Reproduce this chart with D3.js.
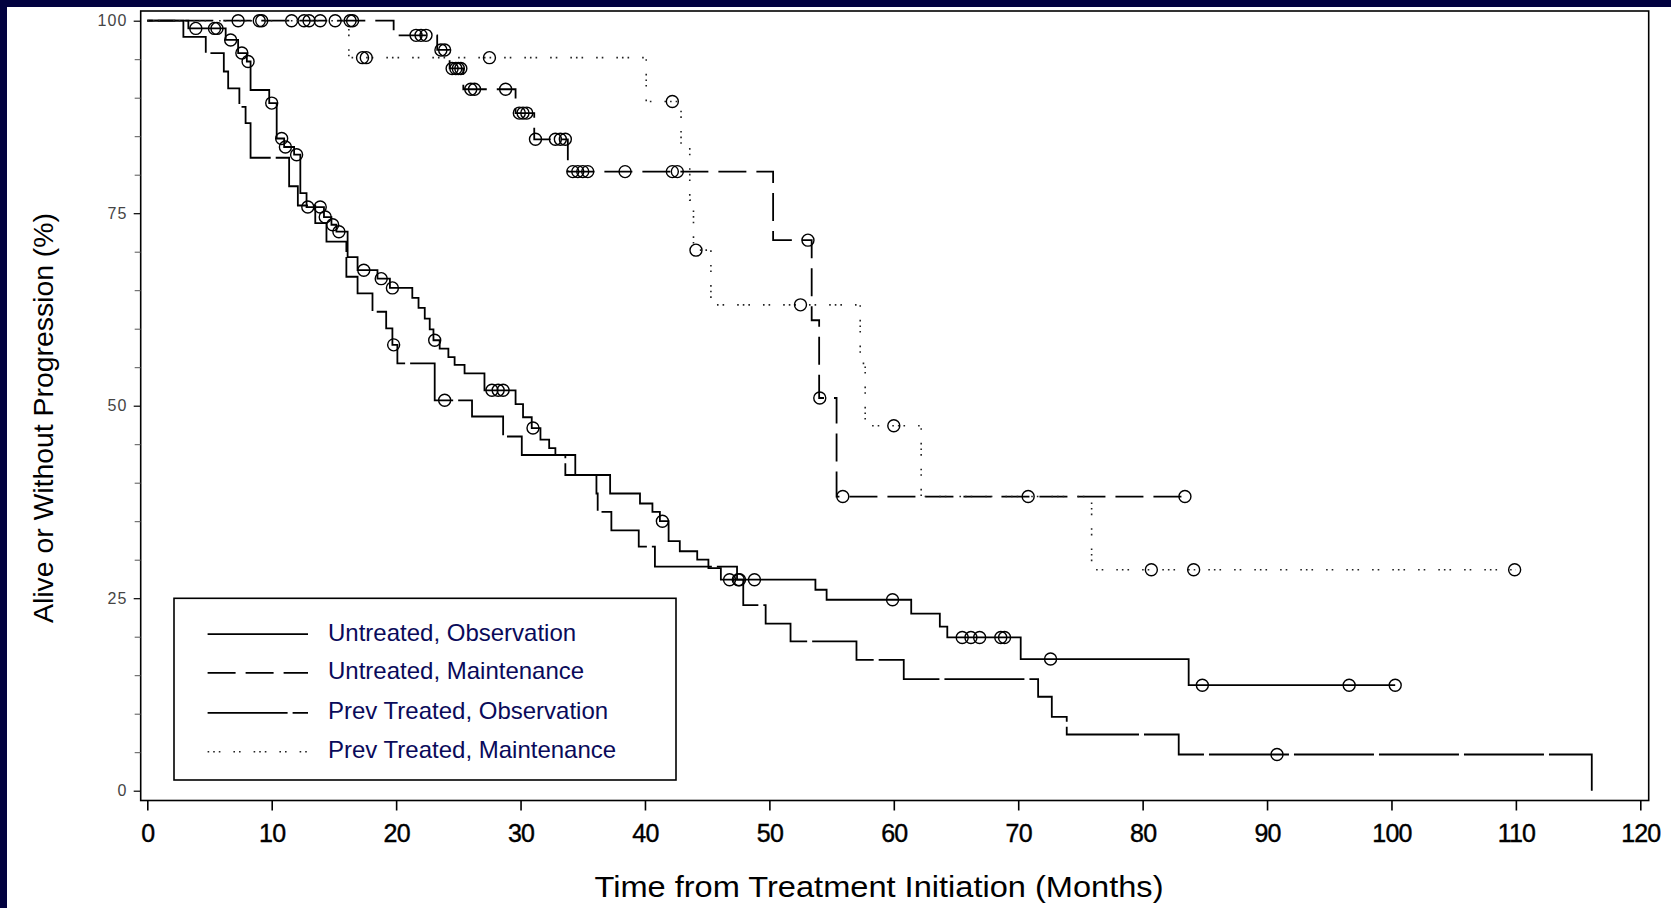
<!DOCTYPE html>
<html><head><meta charset="utf-8">
<script src="https://cdn.jsdelivr.net/npm/d3@7/dist/d3.min.js"></script>
<style>
html,body{margin:0;padding:0;background:#020240;overflow:hidden}
svg{display:block}
text{font-family:"Liberation Sans",Arial,Helvetica,sans-serif}
</style></head>
<body>
<svg id="chart" width="1671" height="908"></svg>
<script>
// ---------------- DATA ----------------
const xTicks = [0,10,20,30,40,50,60,70,80,90,100,110,120];
const yTicks = [0,25,50,75,100];
const yMinorTicks = [5,10,15,20,30,35,40,45,55,60,65,70,80,85,90,95];
const xTitle = "Time from Treatment Initiation (Months)";
const yTitle = "Alive or Without Progression (%)";
const seriesNames = ["Untreated, Observation","Untreated, Maintenance","Prev Treated, Observation","Prev Treated, Maintenance"];

// Kaplan-Meier steps: [month at which the drop happens, new % value]
const untreatedObsSteps = [[0,100],[3.3,99.0],[6.3,97.5],[7.3,95.8],[8.0,94.7],[8.3,91.0],[9.8,89.3],[10.4,84.7],[11.0,83.6],[11.8,82.6],[12.3,77.6],[12.8,75.8],[14.2,74.5],[14.8,73.5],[15.2,72.6],[16.1,69.3],[16.9,67.6],[18.5,66.5],[19.5,65.3],[21.3,64.0],[21.8,62.7],[22.3,61.3],[22.7,59.9],[23.0,58.5],[23.5,57.4],[24.2,56.3],[24.7,55.3],[25.5,54.2],[27.1,52.0],[29.6,50.2],[30.2,48.5],[30.9,47.1],[31.6,45.6],[32.3,44.5],[32.8,43.6],[34.4,41.0],[37.2,38.6],[39.6,37.3],[40.6,36.2],[41.2,35.0],[41.9,32.4],[42.8,31.1],[44.2,30.0],[45.1,28.9],[46.1,27.4],[53.7,26.1],[54.6,24.8],[61.4,23.0],[63.7,21.3],[64.3,19.9],[70.2,17.1],[83.7,13.7]];
const untreatedObsEnd = 100.3;
const untreatedObsCensor = [3.9,5.4,5.6,6.7,7.6,8.1,10.0,10.8,11.1,12.0,12.9,13.9,14.3,14.9,15.4,17.4,18.8,19.7,23.1,27.7,28.2,28.6,31.0,41.4,46.8,47.5,48.8,59.9,65.5,66.2,66.9,68.6,68.9,72.6,84.8,96.6,100.3];

const untreatedMaintSteps = [[0,100],[19.8,98.1],[23.3,96.2],[24.3,93.8],[25.4,91.1],[29.6,88.0],[31.1,84.6],[33.8,80.4],[50.3,71.5],[53.4,61.1],[54.0,51.0],[55.4,38.2]];
const untreatedMaintEnd = 83.4;
const untreatedMaintCensor = [7.3,9.0,9.2,11.6,12.6,13.0,13.9,15.1,16.3,16.5,21.6,22.0,22.4,23.6,23.9,24.5,24.8,25.0,25.2,26.0,26.3,28.8,29.9,30.2,30.5,31.2,32.8,33.2,33.6,34.2,34.6,35.0,35.4,38.4,42.2,42.6,53.1,54.05,55.9,70.8,83.4];

const prevObsSteps = [[0,100],[2.9,97.9],[4.7,95.8],[6.15,93.4],[6.5,91.2],[7.4,88.8],[7.9,86.7],[8.3,82.2],[11.4,78.5],[12.1,76.0],[13.5,73.7],[14.4,71.3],[16.0,66.75],[16.9,64.6],[18.1,62.2],[19.2,60.05],[19.7,57.9],[20.1,55.5],[23.1,50.7],[26.1,48.6],[28.6,46.0],[30.1,43.6],[33.6,41.0],[36.1,38.6],[36.2,36.2],[37.3,33.8],[39.5,31.7],[40.8,29.1],[47.4,27.4],[47.9,24.1],[49.7,21.7],[51.7,19.4],[57.0,17.0],[60.8,14.5],[71.6,12.2],[72.7,9.6],[73.9,7.3],[82.9,4.7],[116.1,0]];
const prevObsEnd = 116.1;
const prevObsCensor = [19.8,23.9,47.6,90.8];

const prevMaintSteps = [[0,100],[16.2,95.2],[40.1,89.5],[42.9,83.6],[43.6,76.7],[43.9,70.2],[45.3,63.1],[57.3,55.5],[57.7,47.4],[62.2,38.2],[75.9,28.7]];
const prevMaintEnd = 110.0;
const prevMaintCensor = [17.3,17.6,27.5,42.2,44.1,52.5,60.0,80.7,84.1,109.9];

// ---------------- LAYOUT ----------------
const svg = d3.select("#chart");
const frame = {left:140.7, right:1648.7, top:11, bottom:800.5};
const x = d3.scaleLinear().domain([0,120]).range([147.3,1640.3]);
const y = d3.scaleLinear().domain([0,100]).range([790.7,20.7]);

svg.append("rect").attr("x",7).attr("y",7).attr("width",1664).attr("height",901).attr("fill","#ffffff");

// frame
svg.append("rect").attr("x",frame.left).attr("y",frame.top)
  .attr("width",frame.right-frame.left).attr("height",frame.bottom-frame.top)
  .attr("fill","none").attr("stroke","#000").attr("stroke-width",1.6);

// x axis
const xAxis = d3.axisBottom(x).tickValues(xTicks).tickSize(10).tickSizeOuter(0).tickPadding(14);
const gx = svg.append("g").attr("transform",`translate(0,${frame.bottom})`).call(xAxis);
gx.select(".domain").remove();
gx.selectAll(".tick line").attr("stroke","#000").attr("stroke-width",1.6);
gx.selectAll(".tick text").attr("font-size",25).attr("fill","#000").attr("letter-spacing",-0.8)
  .attr("stroke","#000").attr("stroke-width",0.4)
  .attr("font-family",'"Liberation Sans",Arial,sans-serif');

// y axis (major with labels, minor without)
const yAxis = d3.axisLeft(y).tickValues(yTicks).tickSize(7).tickSizeOuter(0).tickPadding(6);
const gy = svg.append("g").attr("transform",`translate(${frame.left},0)`).call(yAxis);
gy.select(".domain").remove();
gy.selectAll(".tick line").attr("stroke","#000").attr("stroke-width",1.2);
gy.selectAll(".tick text").attr("font-size",16).attr("fill","#444").attr("letter-spacing",1.2)
  .attr("font-family",'"Liberation Sans",Arial,sans-serif');
const gyMinor = svg.append("g").attr("transform",`translate(${frame.left},0)`)
  .call(d3.axisLeft(y).tickValues(yMinorTicks).tickSize(6).tickFormat(""));
gyMinor.select(".domain").remove();
gyMinor.selectAll(".tick line").attr("stroke","#555").attr("stroke-width",1);

// titles
svg.append("text").attr("x",879).attr("y",897).attr("text-anchor","middle")
  .attr("font-size",29).attr("fill","#000").attr("textLength",569).attr("lengthAdjust","spacingAndGlyphs")
  .text(xTitle);
svg.append("text").attr("transform","translate(53,418) rotate(-90)").attr("text-anchor","middle")
  .attr("font-size",28).attr("fill","#000").attr("textLength",410).attr("lengthAdjust","spacingAndGlyphs")
  .text(yTitle);

// ---------------- CURVES ----------------
const styles = [
  {dash:null, color:"#000", width:1.8},
  {dash:"28,10", color:"#000", width:1.8},
  {dash:"80,5", color:"#000", width:1.8, endOnDash:true},
  {dash:"1.6,4,1.6,4,1.6,13,1.6,4,1.6,13", color:"#222", width:1.6}
];
const series = [
  {steps:untreatedObsSteps, end:untreatedObsEnd, censor:untreatedObsCensor},
  {steps:untreatedMaintSteps, end:untreatedMaintEnd, censor:untreatedMaintCensor},
  {steps:prevObsSteps, end:prevObsEnd, censor:prevObsCensor},
  {steps:prevMaintSteps, end:prevMaintEnd, censor:prevMaintCensor}
];
const line = d3.line().x(d=>x(d[0])).y(d=>y(d[1])).curve(d3.curveStepAfter);
function valueAt(steps,t){let v=steps[0][1];for(const s of steps){if(s[0]<=t)v=s[1];}return v;}

series.forEach((s,i)=>{
  const pts = s.steps.slice();
  const last = pts[pts.length-1];
  if (s.end > last[0]) pts.push([s.end,last[1]]);
  const p = svg.append("path").datum(pts).attr("d",line).attr("fill","none")
    .attr("stroke",styles[i].color).attr("stroke-width",styles[i].width)
    .attr("stroke-dasharray",styles[i].dash);
  if (styles[i].endOnDash) {
    const L = p.node().getTotalLength();
    const parts = styles[i].dash.split(",").map(Number);
    const P = parts[0] + parts[1];
    const off = ((parts[0] - 1 - (L % P)) % P + P) % P;
    p.attr("stroke-dashoffset", off);
  }
  svg.append("g").selectAll("circle").data(s.censor).join("circle")
    .attr("cx",d=>x(d)).attr("cy",d=>y(valueAt(s.steps,d))).attr("r",6)
    .attr("fill","none").attr("stroke","#000").attr("stroke-width",1.4);
});

// ---------------- LEGEND ----------------
const lg = svg.append("g");
lg.append("rect").attr("x",174).attr("y",598.3).attr("width",502).attr("height",181.7)
  .attr("fill","#fff").attr("stroke","#000").attr("stroke-width",1.6);
const rowBase = [640.7,679.3,719.3,758.3];
seriesNames.forEach((n,i)=>{
  lg.append("line").attr("x1",207.6).attr("x2",308).attr("y1",rowBase[i]-6.5).attr("y2",rowBase[i]-6.5)
    .attr("stroke",styles[i].color).attr("stroke-width",styles[i].width)
    .attr("stroke-dasharray",styles[i].dash);
  lg.append("text").attr("x",328).attr("y",rowBase[i]).attr("font-size",24)
    .attr("fill","#0a0a5a").text(n);
});
</script>
</body></html>
